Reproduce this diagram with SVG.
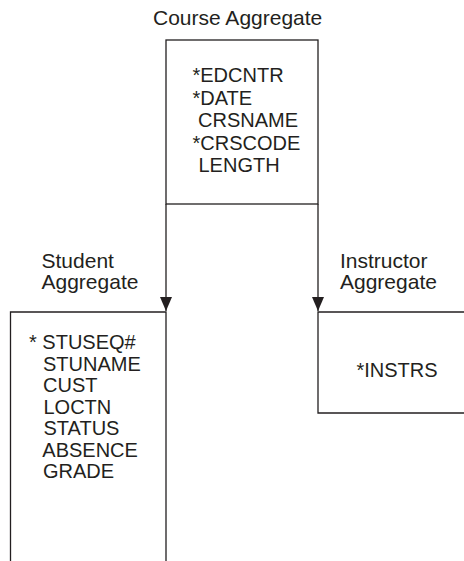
<svg xmlns="http://www.w3.org/2000/svg" width="464" height="561" viewBox="0 0 464 561">
  <defs>
    <style>
      .box { fill: none; stroke: #231f20; stroke-width: 1.3; }
      .conn { fill: none; stroke: #231f20; stroke-width: 1.3; }
      .lbl { font-family: "Liberation Sans", Arial, sans-serif; font-size: 21px; fill: #231f20; }
      .item { font-family: "Liberation Sans", Arial, sans-serif; font-size: 20px; fill: #231f20; }
    </style>
    <marker id="arrow" markerUnits="userSpaceOnUse" markerWidth="14" markerHeight="12" refX="14" refY="6" orient="auto" viewBox="0 0 14 12">
      <path d="M0,0 L14,6 L0,12 Z" fill="#231f20"/>
    </marker>
  </defs>
  <rect width="464" height="561" fill="#ffffff"/>

  <g id="course">
    <text class="lbl" x="153" y="25">Course Aggregate</text>
    <rect class="box" x="166" y="40" width="152" height="164"/>
    <text class="item" x="192.5" y="82">*EDCNTR</text>
    <text class="item" x="192.5" y="104.5">*DATE</text>
    <text class="item" x="198" y="127">CRSNAME</text>
    <text class="item" x="192.5" y="149.5">*CRSCODE</text>
    <text class="item" x="198.5" y="172">LENGTH</text>
  </g>

  <g id="student">
    <text class="lbl" x="41.5" y="268">Student</text>
    <text class="lbl" x="41.5" y="289">Aggregate</text>
    <path class="box" d="M10.5,561 V312 H166 V561"/>
    <text class="item" x="29" y="349">* STUSEQ#</text>
    <text class="item" x="43" y="370.5">STUNAME</text>
    <text class="item" x="43" y="392">CUST</text>
    <text class="item" x="43.5" y="413.5">LOCTN</text>
    <text class="item" x="43.5" y="435">STATUS</text>
    <text class="item" x="42.3" y="456.5">ABSENCE</text>
    <text class="item" x="43" y="478">GRADE</text>
  </g>

  <g id="instructor">
    <text class="lbl" x="340" y="268">Instructor</text>
    <text class="lbl" x="340" y="289">Aggregate</text>
    <path class="box" d="M464,312 H318 V413 H464"/>
    <text class="item" x="356.5" y="377">*INSTRS</text>
  </g>

  <g id="connectors">
    <line class="conn" x1="166" y1="204" x2="166" y2="311" marker-end="url(#arrow)"/>
    <line class="conn" x1="318" y1="204" x2="318" y2="311" marker-end="url(#arrow)"/>
  </g>
</svg>
